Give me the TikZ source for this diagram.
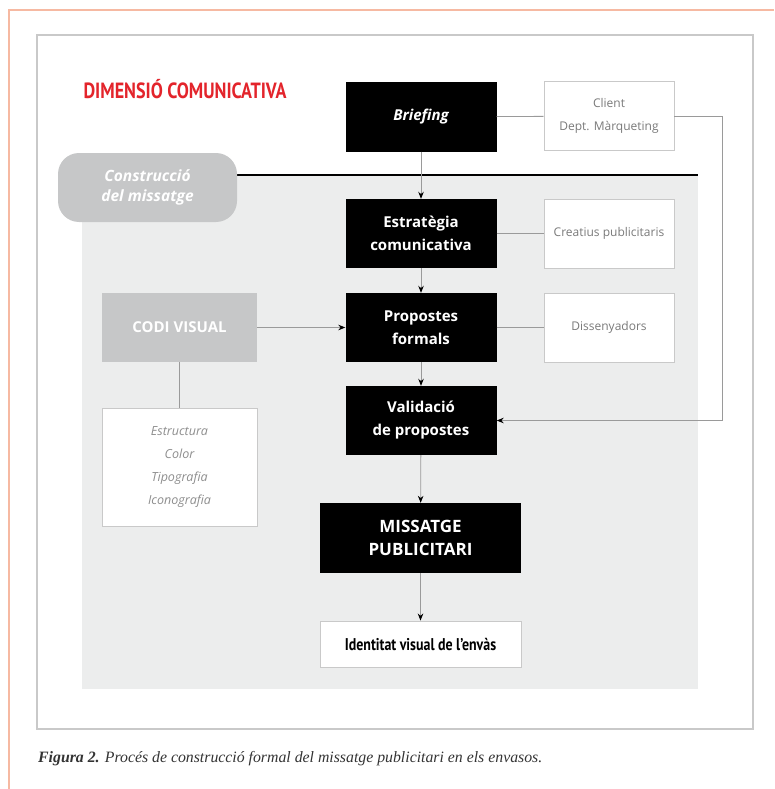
\documentclass[tikz,border=0pt]{standalone}
\usepackage{fontspec}
\setmainfont{Open Sans}
\newfontfamily\narrowfont[FakeStretch=0.82]{PT Sans}
\newfontfamily\capfont{Liberation Serif}
\usepackage{tikz}
\usetikzlibrary{positioning,arrows.meta,calc}
\definecolor{vermell}{HTML}{E3242B}
\definecolor{fons}{HTML}{ECEDED}
\definecolor{vora}{HTML}{C9C9C9}
\definecolor{traç}{HTML}{9A9A9A}
\definecolor{textgris}{HTML}{7A7A7A}
\definecolor{caixagris}{HTML}{C6C7C8}
\definecolor{marge}{HTML}{F6B9A2}
\tikzset{negra/.style={fill=black, draw=none, text=white, align=center, font=\bfseries\fontsize{15}{23}\selectfont}}

\begin{document}
\begin{tikzpicture}[x=1pt, y=-1pt,
      negra/.style={fill=black, draw=none, text=white, align=center,
        font=\bfseries\fontsize{15}{23}\selectfont, minimum width=151, minimum height=69},
      agent/.style={fill=white, draw=vora, line width=0.9pt, text=textgris, align=center,
        font=\fontsize{12}{23}\selectfont, minimum width=130, minimum height=69},
      enllac/.style={draw=traç, line width=0.8pt},
      fletxa/.style={enllac, -{Stealth[length=7pt, width=5.5pt, black]}}]
    \useasboundingbox (0,0) rectangle (774,789);
    % marges i marc
    \draw[marge, line width=1.2pt] (9,789) -- (9,10) -- (774,10);
    \draw[vora, line width=1.5pt] (37,35) rectangle (753,729);
    \fill[fons] (82,175) rectangle (698,689);
    \coordinate (linia) at (698,175);
    \coordinate (retorn) at (722,420.5);
    % caixes
    \node[font=\narrowfont\bfseries\fontsize{22}{26}\selectfont, text=vermell, anchor=base west]
      (titol) at (80,99) {DIMENSIÓ COMUNICATIVA};
    \node[negra, font=\bfseries\itshape\fontsize{15}{23}\selectfont] (briefing) at (421,117) {Briefing};
    \node[agent] (client) at (609,116) {Client\\Dept. Màrqueting};
    \node[negra] (estrategia) at (421,233.5) {Estratègia\\comunicativa};
    \node[agent] (creatius) at (609,233.5) {Creatius publicitaris};
    \node[negra] (propostes) at (421,327.5) {Propostes\\formals};
    \node[agent] (dissenyadors) at (609,327.5) {Dissenyadors};
    \node[negra] (validacio) at (421,420.5) {Validació\\de propostes};
    \node[negra, minimum width=201, minimum height=70, font=\bfseries\fontsize{17}{23}\selectfont]
      (missatge) at (420.5,538) {MISSATGE\\PUBLICITARI};
    \node[agent, minimum width=201, minimum height=46, text=black,
      font=\narrowfont\bfseries\fontsize{17}{18}\selectfont] (identitat) at (420.5,644) {Identitat visual de l’envàs};
    \node[fill=caixagris, text=white, minimum width=155, minimum height=69,
      font=\bfseries\fontsize{15}{18}\selectfont] (codi) at (179.5,327.5) {CODI VISUAL};
    \node[agent, minimum width=155, minimum height=118, text=textgris!85,
      font=\itshape\fontsize{12.5}{23}\selectfont] (llista) at (179.5,467) {Estructura\\Color\\Tipografia\\Iconografia};
    % connexions
    \draw[black, line width=2.2pt] (147.5,175) -- (linia);
    \node[fill=caixagris, rounded corners=21pt, minimum width=179, minimum height=69, text=white, align=center,
      font=\bfseries\itshape\fontsize{15.5}{20}\selectfont] (construccio) at (147.5,187.5) {Construcció\\del missatge};
    \draw[enllac] (briefing) -- (client);
    \draw[enllac] (estrategia) -- (creatius);
    \draw[enllac] (propostes) -- (dissenyadors);
    \draw[enllac] (codi) -- (llista);
    \draw[fletxa] (client.east) -| (retorn) -- (validacio.east);
    \draw[fletxa] (codi) -- (propostes);
    \foreach \a/\b in {briefing/estrategia, estrategia/propostes, propostes/validacio, validacio/missatge, missatge/identitat}
      \draw[fletxa] (\a) -- (\b);
    % peu
    \node[anchor=base west, inner sep=0pt, font=\capfont\itshape\fontsize{15.8}{18}\selectfont, text=black!80]
      (peu) at (38,762) {{\bfseries Figura 2.} Procés de construcció formal del missatge publicitari en els envasos.};
  \end{tikzpicture}
\end{document}
